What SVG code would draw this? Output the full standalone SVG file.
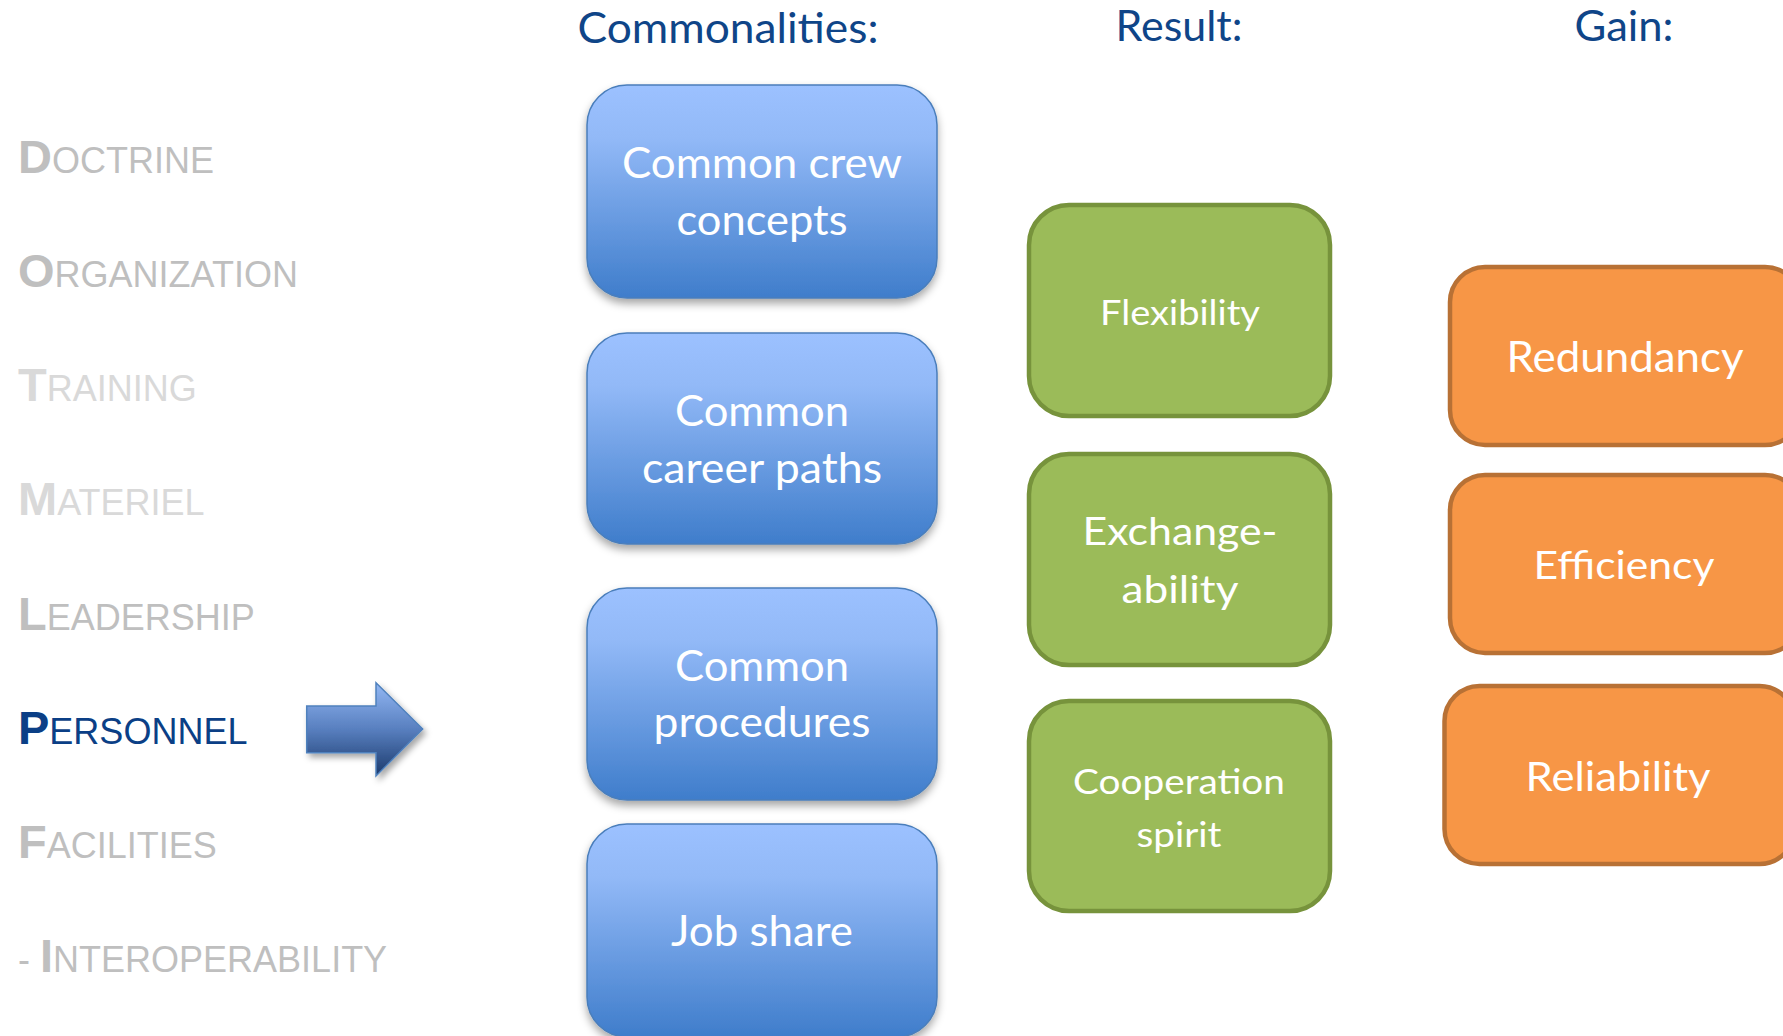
<svg xmlns="http://www.w3.org/2000/svg" width="1783" height="1036" viewBox="0 0 1783 1036">
<defs>
<linearGradient id="gBlue" x1="0" y1="0" x2="0" y2="1">
<stop offset="0" stop-color="#9cc1ff"/>
<stop offset="0.25" stop-color="#92b9f7"/>
<stop offset="1" stop-color="#3f7dcb"/>
</linearGradient>
<linearGradient id="gArrow" x1="0" y1="0" x2="0" y2="1">
<stop offset="0" stop-color="#93b8f4"/>
<stop offset="0.5" stop-color="#587fbf"/>
<stop offset="1" stop-color="#1b3a6c"/>
</linearGradient>
<filter id="shadow" x="-10%" y="-10%" width="120%" height="130%">
<feDropShadow dx="0" dy="5" stdDeviation="4" flood-color="#000" flood-opacity="0.35"/>
</filter>
<filter id="ashadow" x="-20%" y="-20%" width="150%" height="150%">
<feDropShadow dx="3" dy="4" stdDeviation="3" flood-color="#000" flood-opacity="0.35"/>
</filter>
</defs>
<style>
.lbl{font-family:"Liberation Sans",Arial,sans-serif;font-size:36px;fill:#bfbfbf}
.lt{fill:#d9d9d9}
.act{fill:#0b3f86}
.big{font-size:47px;font-weight:bold}
.hdr{font-family:Lato,"Open Sans",sans-serif;font-size:43px;fill:#0f4588;text-anchor:middle}
.bt{font-family:Lato,"Open Sans",sans-serif;fill:#ffffff;text-anchor:middle}
.blue{fill:url(#gBlue);stroke:#4a7ebb;stroke-width:1.5;filter:url(#shadow)}
.green{fill:#9bbb59;stroke:#77933c;stroke-width:4.5}
.orange{fill:#f79646;stroke:#b87135;stroke-width:4.5}
</style>
<rect width="1783" height="1036" fill="#ffffff"/>

<g id="dotmlpf">
<text class="lbl" x="18" y="173"><tspan class="big">D</tspan>OCTRINE</text>
<text class="lbl" x="18" y="287"><tspan class="big">O</tspan>RGANIZATION</text>
<text class="lbl lt" x="18" y="401"><tspan class="big">T</tspan>RAINING</text>
<text class="lbl lt" x="18" y="515"><tspan class="big">M</tspan>ATERIEL</text>
<text class="lbl" x="18" y="630"><tspan class="big">L</tspan>EADERSHIP</text>
<text class="lbl act" x="18" y="744"><tspan class="big">P</tspan>ERSONNEL</text>
<text class="lbl" x="18" y="858"><tspan class="big">F</tspan>ACILITIES</text>
<text class="lbl" x="18" y="972">- <tspan class="big">I</tspan>NTEROPERABILITY</text>
</g>

<g id="headers">
<text class="hdr" x="728" y="43" textLength="301" lengthAdjust="spacingAndGlyphs">Commonalities:</text>
<text class="hdr" x="1179" y="41" textLength="127" lengthAdjust="spacingAndGlyphs">Result:</text>
<text class="hdr" x="1624" y="41" textLength="99" lengthAdjust="spacingAndGlyphs">Gain:</text>
</g>

<g id="connectors">
<path id="arrow" d="M306.7,706 L376,706 L376,682.7 L422.7,729 L376,776 L376,752.7 L306.7,752.7 Z" fill="url(#gArrow)" stroke="#4f81bd" stroke-width="1.5" filter="url(#ashadow)"/>
</g>

<g id="common-crew">
<rect class="blue" x="587" y="85" width="350" height="213" rx="40"/>
<text class="bt" font-size="42" x="762" y="178" textLength="280" lengthAdjust="spacingAndGlyphs">Common crew</text>
<text class="bt" font-size="42" x="762" y="235" textLength="171" lengthAdjust="spacingAndGlyphs">concepts</text>
</g>
<g id="common-career">
<rect class="blue" x="587" y="333" width="350" height="211" rx="40"/>
<text class="bt" font-size="42" x="762" y="426" textLength="174" lengthAdjust="spacingAndGlyphs">Common</text>
<text class="bt" font-size="42" x="762" y="483" textLength="240" lengthAdjust="spacingAndGlyphs">career paths</text>
</g>
<g id="common-procedures">
<rect class="blue" x="587" y="588" width="350" height="212" rx="40"/>
<text class="bt" font-size="42" x="762" y="681" textLength="174" lengthAdjust="spacingAndGlyphs">Common</text>
<text class="bt" font-size="42" x="762" y="737" textLength="217" lengthAdjust="spacingAndGlyphs">procedures</text>
</g>
<g id="job-share">
<rect class="blue" x="587" y="824" width="350" height="213" rx="40"/>
<text class="bt" font-size="42" x="762" y="946" textLength="182" lengthAdjust="spacingAndGlyphs">Job share</text>
</g>

<g id="flexibility">
<rect class="green" x="1029" y="205" width="301" height="211" rx="40"/>
<text class="bt" font-size="35" x="1180" y="325" textLength="160" lengthAdjust="spacingAndGlyphs">Flexibility</text>
</g>
<g id="exchangeability">
<rect class="green" x="1029" y="454" width="301" height="211" rx="40"/>
<text class="bt" font-size="38.5" x="1180" y="545" textLength="195" lengthAdjust="spacingAndGlyphs">Exchange-</text>
<text class="bt" font-size="38.5" x="1180" y="603" textLength="117" lengthAdjust="spacingAndGlyphs">ability</text>
</g>
<g id="cooperation">
<rect class="green" x="1029" y="701" width="301" height="210" rx="40"/>
<text class="bt" font-size="35" x="1179" y="794" textLength="212" lengthAdjust="spacingAndGlyphs">Cooperation</text>
<text class="bt" font-size="35" x="1179" y="847" textLength="85" lengthAdjust="spacingAndGlyphs">spirit</text>
</g>

<g id="redundancy">
<rect class="orange" x="1450" y="267" width="350" height="178" rx="35"/>
<text class="bt" font-size="42" x="1625" y="372" textLength="237" lengthAdjust="spacingAndGlyphs">Redundancy</text>
</g>
<g id="efficiency">
<rect class="orange" x="1450" y="475" width="350" height="178" rx="35"/>
<text class="bt" font-size="38" x="1624" y="579" textLength="181" lengthAdjust="spacingAndGlyphs">Efficiency</text>
</g>
<g id="reliability">
<rect class="orange" x="1444.5" y="686" width="350" height="178" rx="35"/>
<text class="bt" font-size="40" x="1618" y="791" textLength="185" lengthAdjust="spacingAndGlyphs">Reliability</text>
</g>
</svg>
